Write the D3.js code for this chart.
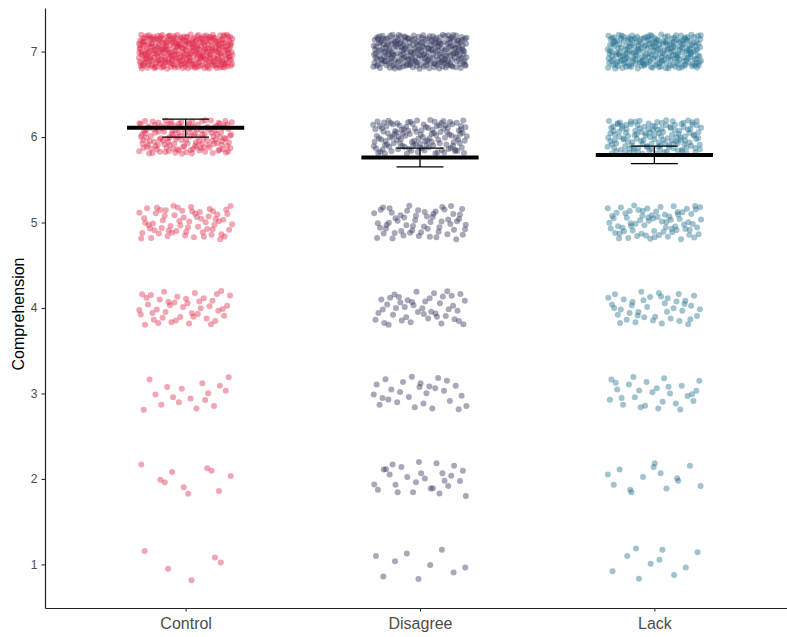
<!DOCTYPE html>
<html>
<head>
<meta charset="utf-8">
<script src="https://cdn.jsdelivr.net/npm/d3@7"></script>
<style>
  html, body { margin: 0; padding: 0; background: #fff; overflow: hidden; }
  svg { display: block; font-family: "Liberation Sans", Arial, sans-serif; }
</style>
</head>
<body>
<svg id="chart" width="787" height="637"></svg>
<script>
// ---- data ----
const categories = ["Control", "Disagree", "Lack"];
const levels = [1, 2, 3, 4, 5, 6, 7];
// number of respondents at each rating level (1..7) per condition
const countsControl  = [5, 10, 17, 45, 65, 150, 360];
const countsDisagree = [9, 27, 28, 45, 60, 130, 260];
const countsLack     = [10, 14, 28, 42, 75, 140, 245];
// group means and error-bar limits
const means  = [6.11, 5.76, 5.79];
const ciLow  = [6.00, 5.65, 5.69];
const ciHigh = [6.21, 5.87, 5.895];
const yTicks = [1, 2, 3, 4, 5, 6, 7];
const colors = ["#E0294A", "#2E3257", "#1F6E8C"];

const counts = [countsControl, countsDisagree, countsLack];

const svg = d3.select("#chart");
const mLeft = 45, mRight = 795, mTop = 8, mBottom = 608;

const x = d3.scalePoint().domain(categories).range([mLeft, mRight]).padding(0.6);
const unit = x.step();
const y = d3.scaleLinear().domain([0.49, 7.51]).range([mBottom, mTop]);

// deterministic jitter layout (Halton low-discrepancy positions)
function halton(i, b) { let f = 1, r = 0; while (i > 0) { f /= b; r += f * (i % b); i = Math.floor(i / b); } return r; }

const points = [];
categories.forEach((c, gi) => {
  levels.forEach((lv, li) => {
    const n = counts[gi][li];
    const off = gi * 977 + li * 211 + 7;
    for (let k = 0; k < n; k++) {
      const jx = halton(off + k, 2) * 2 - 1;
      const jy = halton(off + k, 3) * 2 - 1;
      points.push({ cat: c, gi, value: lv, jx, jy });
    }
  });
});

svg.append("g").selectAll("circle").data(points).join("circle")
  .attr("cx", d => x(d.cat) + d.jx * 0.2 * unit)
  .attr("cy", d => y(d.value + d.jy * 0.2))
  .attr("r", 3)
  .attr("fill", d => colors[d.gi])
  .attr("fill-opacity", 0.42);

// mean lines
const summary = categories.map((c, i) => ({ c, m: means[i], lo: ciLow[i], hi: ciHigh[i] }));
const g = svg.append("g");
g.selectAll("line.mean").data(summary).join("line").attr("class", "mean")
  .attr("x1", d => x(d.c) - 0.25 * unit).attr("x2", d => x(d.c) + 0.25 * unit)
  .attr("y1", d => y(d.m)).attr("y2", d => y(d.m))
  .attr("stroke", "#000").attr("stroke-width", 4);
// error bars
g.selectAll("line.ev").data(summary).join("line").attr("class", "ev")
  .attr("x1", d => x(d.c)).attr("x2", d => x(d.c))
  .attr("y1", d => y(d.lo)).attr("y2", d => y(d.hi))
  .attr("stroke", "#000").attr("stroke-width", 1.3);
g.selectAll("line.eh").data(summary).join("line").attr("class", "eh")
  .attr("x1", d => x(d.c) - 0.1 * unit).attr("x2", d => x(d.c) + 0.1 * unit)
  .attr("y1", d => y(d.hi)).attr("y2", d => y(d.hi))
  .attr("stroke", "#000").attr("stroke-width", 1.3);
g.selectAll("line.el").data(summary).join("line").attr("class", "el")
  .attr("x1", d => x(d.c) - 0.1 * unit).attr("x2", d => x(d.c) + 0.1 * unit)
  .attr("y1", d => y(d.lo)).attr("y2", d => y(d.lo))
  .attr("stroke", "#000").attr("stroke-width", 1.3);

// axes
const yAxis = svg.append("g").attr("transform", `translate(${mLeft},0)`)
  .call(d3.axisLeft(y).tickValues(yTicks).tickSize(3.5).tickSizeOuter(0).tickPadding(4).tickFormat(d3.format("d")));
const xAxis = svg.append("g").attr("transform", `translate(0,${mBottom})`)
  .call(d3.axisBottom(x).tickSize(3.5).tickSizeOuter(0).tickPadding(6));
[yAxis, xAxis].forEach(a => {
  a.select(".domain").attr("stroke", "#222").attr("stroke-width", 1.2);
  a.selectAll(".tick line").attr("stroke", "#333").attr("stroke-width", 1.1);
});
yAxis.selectAll(".tick text").attr("fill", "#4d4d4d").style("font-size", "12px");
xAxis.selectAll(".tick text").attr("fill", "#4d4d4d").style("font-size", "16px");

svg.append("text")
  .attr("transform", `translate(24,${(mTop + mBottom) / 2 + 6}) rotate(-90)`)
  .attr("text-anchor", "middle")
  .style("font-size", "16px").attr("fill", "#000")
  .text("Comprehension");
</script>
</body>
</html>
